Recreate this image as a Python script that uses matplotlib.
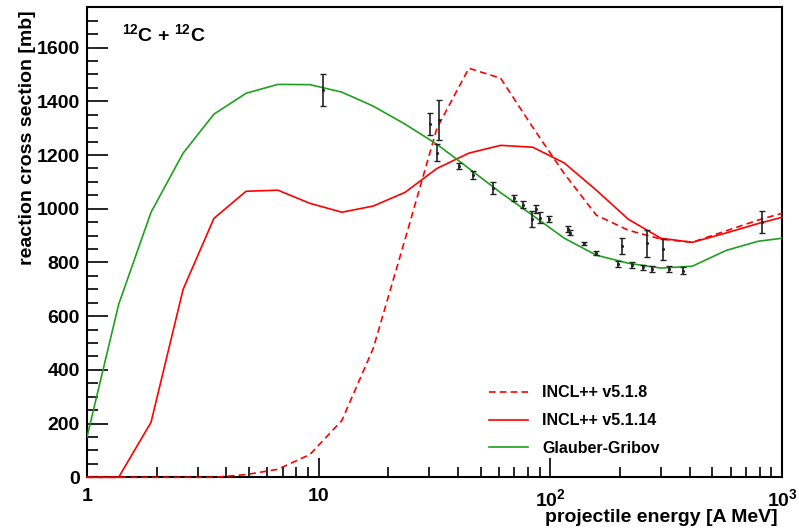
import numpy as np
import matplotlib
matplotlib.use("Agg")
import matplotlib.pyplot as plt

plt.rcParams['font.family'] = ['Liberation Sans', 'DejaVu Sans']
plt.rcParams['font.weight'] = 'bold'
plt.rcParams['mathtext.fontset'] = 'custom'
plt.rcParams['mathtext.rm'] = 'Liberation Sans:bold'
plt.rcParams['mathtext.bf'] = 'Liberation Sans:bold'
plt.rcParams['mathtext.it'] = 'Liberation Sans:bold'
plt.rcParams['mathtext.default'] = 'bf'

# model curves (energy in A MeV)
e_grid = [1, 1.37, 1.89, 2.6, 3.53, 4.86, 6.67, 9.17, 12.6, 17.2, 23.6, 32.4,
          44.5, 61, 84, 115, 158, 217, 300, 410, 575, 790, 1000]

glauber = [150, 644, 987, 1207, 1352, 1430, 1463, 1462, 1434, 1382, 1315, 1240,
           1150, 1060, 975, 890, 827, 797, 779, 786, 845, 879, 890]

incl_5114 = [0, 0, 205, 700, 964, 1065, 1069, 1020, 987, 1010, 1061, 1150,
             1207, 1236, 1229, 1170, 1069, 961, 890, 875, 910, 945, 968]

incl_518 = [0, 0, 0, 0, 0, 10, 30, 85, 212, 480, 886, 1300,
            1523, 1486, 1303, 1130, 976, 920, 887, 875, 918, 958, 983]

# experimental data
exp_e = [10.4, 30.1, 32.5, 33.2, 40.4, 46.2, 56.4, 69.8, 76.4, 83.3, 86.4, 90.2,
         98.9, 118.8, 121.6, 140, 157.4, 196.4, 203, 225, 252, 260.5, 275.4,
         305, 326, 372, 822]
exp_xs = [1442, 1315, 1209, 1331, 1159, 1126, 1076, 1039, 1015, 961, 999, 967,
          962, 924, 911, 871, 834, 794, 861, 790, 782, 871, 776,
          849, 775, 770, 950]
exp_err = [60, 40, 31, 74, 10, 14, 22, 12, 12, 29, 14, 19,
           10, 10, 8, 6, 8, 12, 29, 10, 10, 51, 12,
           40, 12, 12, 40]

fig = plt.figure(figsize=(7.99, 5.30), dpi=100)
ax = fig.add_axes([87/799, 52.7/530, 695/799, 470/530])

red = '#ff0000'
green = '#1ea01e'

ax.plot(e_grid, incl_518, color=red, lw=1.2, dashes=(4, 2.5), label='INCL++ v5.1.8',
        zorder=3, clip_on=False)
ax.plot(e_grid, incl_5114, color=red, lw=1.2, label='INCL++ v5.1.14',
        zorder=3, clip_on=False)
ax.plot(e_grid, glauber, color=green, lw=1.2, label='Glauber-Gribov', zorder=3)
ax.errorbar(exp_e, exp_xs, yerr=exp_err, fmt='.', ms=2.5, color='#222222',
            elinewidth=1.2, capsize=2, capthick=1, zorder=4)

ax.set_xscale('log')
ax.set_xlim(1, 1000)
ax.set_ylim(0, 1750)

ax.set_xticks([1, 10, 100, 1000])
ax.set_xticklabels(['1', '10', r'$10^{2}$', r'$10^{3}$'])
ax.set_yticks(np.arange(0, 1601, 200))
ax.set_yticks(np.arange(0, 1751, 50), minor=True)

ax.tick_params(axis='both', which='both', direction='in', top=False, right=False,
               labelsize=14, width=1.2)
ax.tick_params(axis='y', which='major', length=15, pad=5)
ax.tick_params(axis='y', which='minor', length=8)
ax.tick_params(axis='x', which='major', length=14, pad=8)
ax.tick_params(axis='x', which='minor', length=7)
for s in ax.spines.values():
    s.set_linewidth(1.5)

ax.set_xlabel('projectile energy [A MeV]', fontsize=14, fontweight='bold', loc='right')
ax.xaxis.label.set_va('center')
ax.xaxis.set_label_coords(0.994, -0.086)
ax.set_ylabel('reaction cross section [mb]', fontsize=14, fontweight='bold', loc='top')
ax.yaxis.label.set_va('center')
ax.yaxis.set_label_coords(-0.085, 0.994)

ax.text(0.05, 0.943, r'$^{12}$C + $^{12}$C', transform=ax.transAxes, fontsize=14,
        fontweight='bold', va='center', ha='left')

ax.legend(loc='upper left', bbox_to_anchor=(0.578, 0.1955), frameon=False,
          fontsize=11.5, borderpad=0, borderaxespad=0, handlelength=2.45,
          handletextpad=0.9, labelspacing=0.8)

fig.savefig('out.png', dpi=100)
